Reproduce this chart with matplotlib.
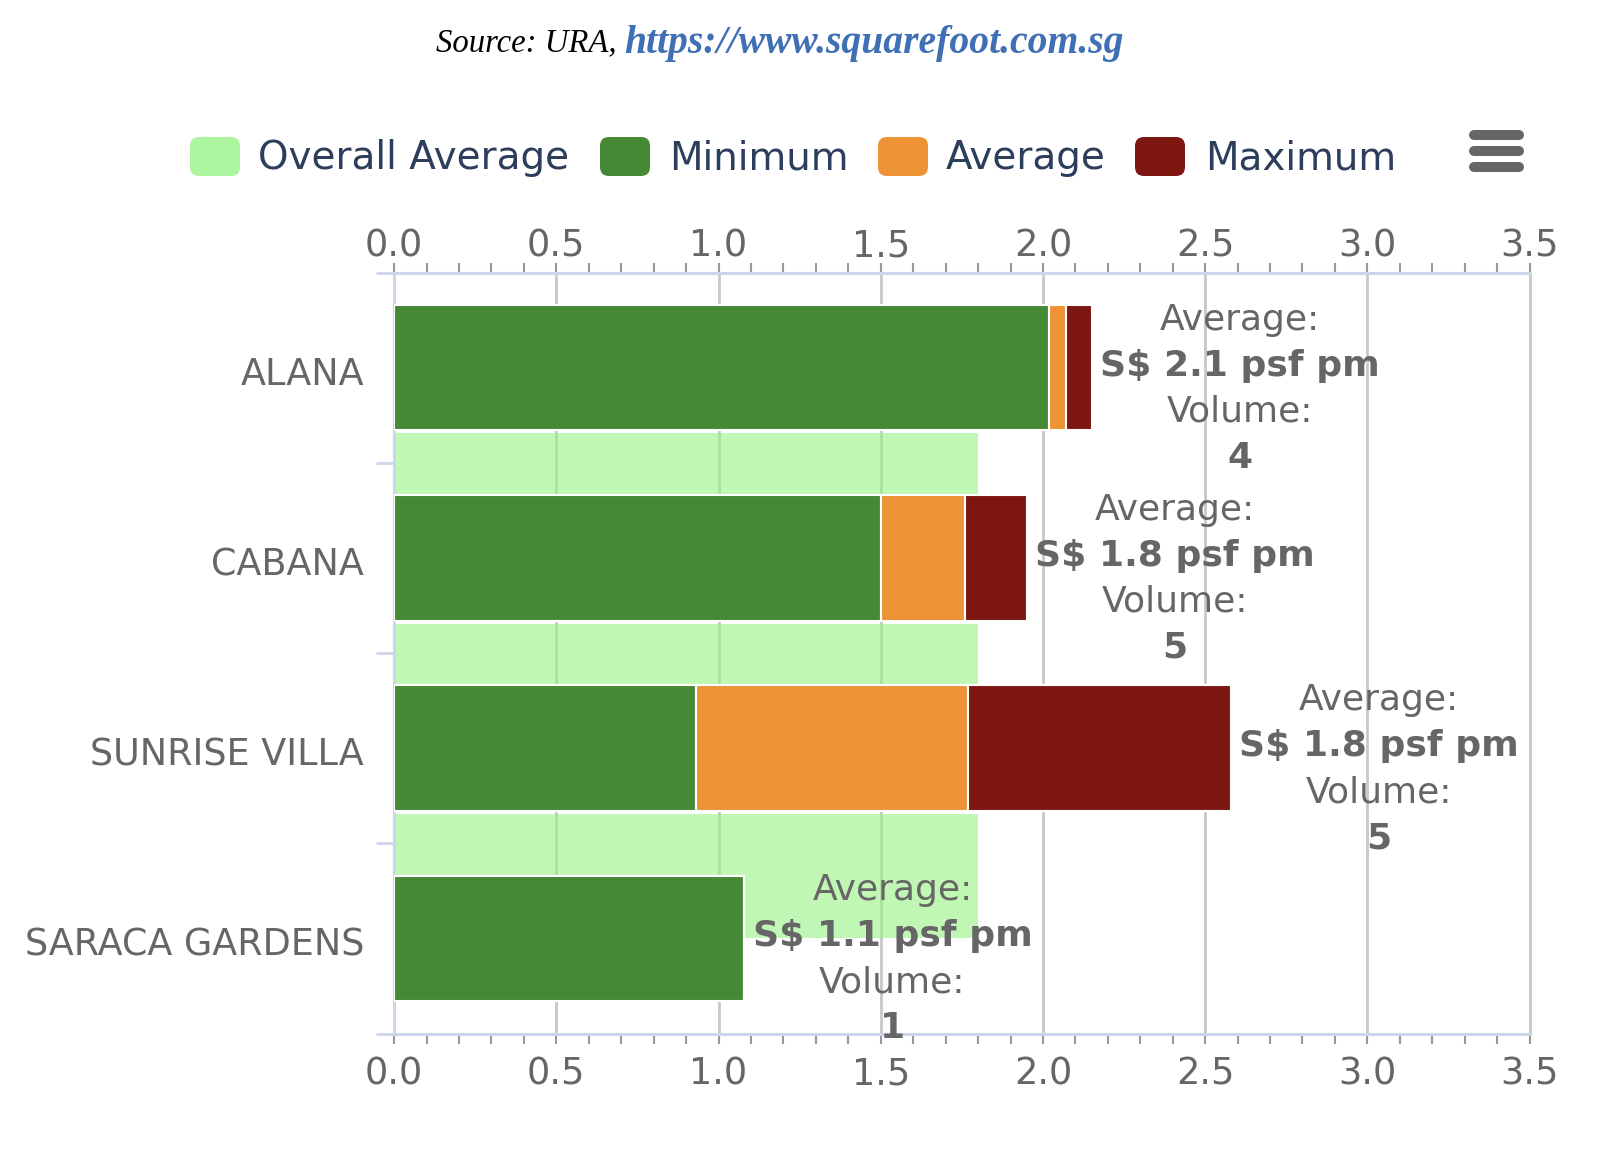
import numpy as np
import matplotlib as mpl
mpl.use('Agg')
import matplotlib.pyplot as plt
from matplotlib.patches import FancyBboxPatch

projects = ['ALANA', 'CABANA', 'SUNRISE VILLA', 'SARACA GARDENS']
minimum = [2.02, 1.50, 0.93, 1.08]
average = [2.07, 1.76, 1.77, 1.08]
maximum = [2.15, 1.95, 2.58, 1.08]
volume = [4, 5, 5, 1]
overall_avg = [1.80, 1.80, 1.80]
series_names = ['Overall Average', 'Minimum', 'Average', 'Maximum']

c_overall = '#99f382'
c_min = '#468934'
c_avg = '#ee9236'
c_max = '#7d1610'
txt_grey = '#666666'
axis_col = '#ccd6eb'
grid_col = '#c8c8c8'

plt.rcParams['font.family'] = 'DejaVu Sans'

fig = plt.figure(figsize=(16, 11.49), dpi=100)

# overlay in pixel coords for title, legend and menu icon
ov = fig.add_axes([0, 0, 1, 1])
ov.set_xlim(0, 1600)
ov.set_ylim(1149, 0)
ov.axis('off')

ax = fig.add_axes([0.2463, 0.1004, 0.956 - 0.2463, 0.7628 - 0.1004])

y = np.arange(len(projects))
mn = np.array(minimum)
av = np.array(average)
mx = np.array(maximum)

# overall average bars sit between the categories, behind the stacks
ax.barh(y[:len(overall_avg)] + 0.67, overall_avg, height=0.65, color=c_overall,
        alpha=0.6, lw=0, zorder=2)
ax.barh(y, mn, height=0.66, color=c_min, edgecolor='white', lw=1.5, zorder=3)
ax.barh(y, av - mn, left=mn, height=0.66, color=c_avg, edgecolor='white', lw=1.5, zorder=3)
ax.barh(y, mx - av, left=av, height=0.66, color=c_max, edgecolor='white', lw=1.5, zorder=3)

# data labels
fs_lab = 26
for i in range(len(projects)):
    lines = [('Average:', 'normal', 34.6),
             ('S$ %.1f psf pm' % average[i], 'bold', 1.5),
             ('Volume:', 'normal', -31.6),
             ('%d' % volume[i], 'bold', -64.7)]
    for s, w, dy in lines:
        ax.annotate(s, xy=(maximum[i], i), xytext=(106.5, dy), textcoords='offset points',
                    ha='center', va='center', fontsize=fs_lab, fontweight=w,
                    color=txt_grey, zorder=5, annotation_clip=False)

ax.set_xlim(0, 3.5)
ax.set_ylim(3.5, -0.5)

xt = np.arange(0, 3.51, 0.5)
ax.set_xticks(xt)
ax.set_xticks(np.arange(0, 3.45, 0.1), minor=True)
ax.xaxis.set_major_formatter('{x:.1f}')
ax.tick_params(axis='x', which='both', top=True, bottom=True, labeltop=False,
               labelbottom=True, direction='out', length=7.5, width=1.5,
               color='#999999', labelsize=26.5, labelcolor=txt_grey, pad=8)

sec = ax.secondary_xaxis('top')
sec.set_xticks(xt)
sec.xaxis.set_major_formatter('{x:.1f}')
sec.tick_params(axis='x', length=0, pad=6, labelsize=26.5, labelcolor=txt_grey)
sec.spines['top'].set_visible(False)

ax.set_yticks(y + 0.015)
ax.set_yticklabels(projects)
ax.set_yticks(np.arange(-0.5, 4, 1), minor=True)
ax.tick_params(axis='y', which='major', length=0, pad=21.6, labelsize=26.3,
               labelcolor=txt_grey)
ax.tick_params(axis='y', which='minor', length=13, width=2, color=axis_col)

ax.grid(axis='x', which='major', color=grid_col, lw=2)
ax.set_axisbelow(True)
for side in ['top', 'bottom', 'left']:
    ax.spines[side].set_color(axis_col)
    ax.spines[side].set_linewidth(2.2)
ax.spines['right'].set_color(grid_col)
ax.spines['right'].set_linewidth(2)

# title / source
ov.text(436, 43, 'Source: URA, ', fontfamily='Liberation Serif', style='italic',
        fontsize=23.6, color='black', ha='left', va='center')
ov.text(624, 43, 'https://www.squarefoot.com.sg', fontfamily='Liberation Serif',
        style='italic', fontweight='bold', fontsize=28.5, color='#3f6fb5',
        ha='left', va='center')

# legend
leg_cols = ['#aef5a0', c_min, c_avg, c_max]
marker_x = [190, 600, 878, 1135]
label_x = [258, 669, 946, 1205]
for name, col, mxp, lx in zip(series_names, leg_cols, marker_x, label_x):
    ov.add_patch(FancyBboxPatch((mxp, 137), 50, 39, boxstyle='round,pad=0,rounding_size=9',
                                fc=col, ec='none'))
    ov.text(lx, 158, name, fontsize=28, color='#2c3e5c', ha='left', va='center')

# menu icon
for yy in [135, 151, 167]:
    ov.plot([1474, 1519], [yy, yy], color=txt_grey, lw=7.2, solid_capstyle='round')

fig.savefig('out.png', dpi=100)
